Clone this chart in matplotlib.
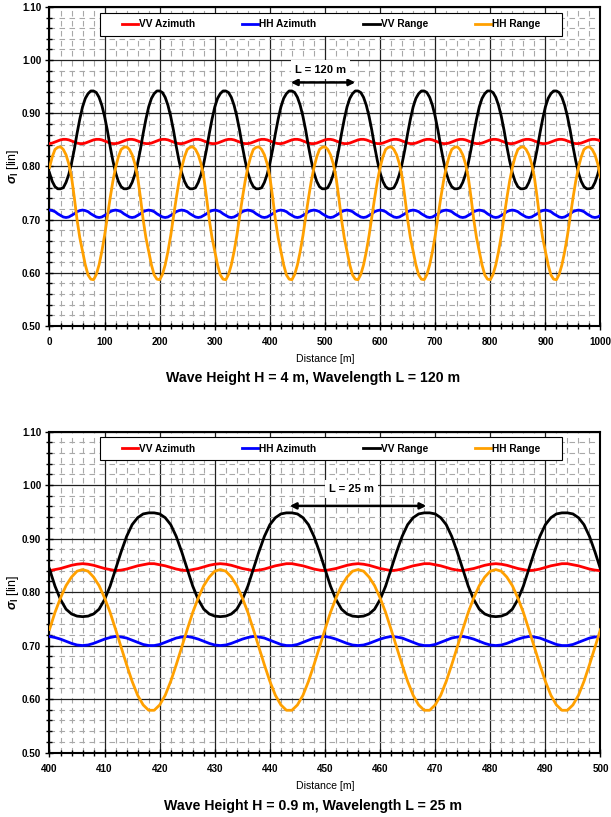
import matplotlib
matplotlib.use("Agg")
import matplotlib.pyplot as plt
from matplotlib.patches import Rectangle
from matplotlib.ticker import MultipleLocator, FormatStrFormatter

plt.rcParams['font.family'] = ['Liberation Sans', 'DejaVu Sans']
plt.rcParams['font.weight'] = 'bold'
plt.rcParams['mathtext.fontset'] = 'custom'
plt.rcParams['mathtext.it'] = 'Liberation Sans:italic:bold'
plt.rcParams['mathtext.rm'] = 'Liberation Sans:bold'

# ---- data ----
series_names = ["VV Azimuth", "HH Azimuth", "VV Range", "HH Range"]
series_colors = ["#ff0000", "#0000ff", "#000000", "#ffa000"]

# top panel: H = 4 m, L = 120 m, sampled every 5 m
distance_top = list(range(0, 1001, 5))
vv_az_top = [
    0.843, 0.844, 0.846, 0.848, 0.850, 0.851, 0.851, 0.850, 0.848, 0.846, 0.844, 0.843,
    0.843, 0.844, 0.846, 0.848, 0.850, 0.851, 0.851, 0.850, 0.848, 0.846, 0.844, 0.843,
    0.843, 0.844, 0.846, 0.848, 0.850, 0.851, 0.851, 0.850, 0.848, 0.846, 0.844, 0.843,
    0.843, 0.844, 0.846, 0.848, 0.850, 0.851, 0.851, 0.850, 0.848, 0.846, 0.844, 0.843,
    0.843, 0.844, 0.846, 0.848, 0.850, 0.851, 0.851, 0.850, 0.848, 0.846, 0.844, 0.843,
    0.843, 0.844, 0.846, 0.848, 0.850, 0.851, 0.851, 0.850, 0.848, 0.846, 0.844, 0.843,
    0.843, 0.844, 0.846, 0.848, 0.850, 0.851, 0.851, 0.850, 0.848, 0.846, 0.844, 0.843,
    0.843, 0.844, 0.846, 0.848, 0.850, 0.851, 0.851, 0.850, 0.848, 0.846, 0.844, 0.843,
    0.843, 0.844, 0.846, 0.848, 0.850, 0.851, 0.851, 0.850, 0.848, 0.846, 0.844, 0.843,
    0.843, 0.844, 0.846, 0.848, 0.850, 0.851, 0.851, 0.850, 0.848, 0.846, 0.844, 0.843,
    0.843, 0.844, 0.846, 0.848, 0.850, 0.851, 0.851, 0.850, 0.848, 0.846, 0.844, 0.843,
    0.843, 0.844, 0.846, 0.848, 0.850, 0.851, 0.851, 0.850, 0.848, 0.846, 0.844, 0.843,
    0.843, 0.844, 0.846, 0.848, 0.850, 0.851, 0.851, 0.850, 0.848, 0.846, 0.844, 0.843,
    0.843, 0.844, 0.846, 0.848, 0.850, 0.851, 0.851, 0.850, 0.848, 0.846, 0.844, 0.843,
    0.843, 0.844, 0.846, 0.848, 0.850, 0.851, 0.851, 0.850, 0.848, 0.846, 0.844, 0.843,
    0.843, 0.844, 0.846, 0.848, 0.850, 0.851, 0.851, 0.850, 0.848, 0.846, 0.844, 0.843,
    0.843, 0.844, 0.846, 0.848, 0.850, 0.851, 0.851, 0.850, 0.848,
]
hh_az_top = [
    0.718, 0.717, 0.715, 0.711, 0.708, 0.705, 0.704, 0.705, 0.708, 0.711, 0.715, 0.717,
    0.718, 0.717, 0.715, 0.711, 0.708, 0.705, 0.704, 0.705, 0.708, 0.711, 0.715, 0.717,
    0.718, 0.717, 0.715, 0.711, 0.708, 0.705, 0.704, 0.705, 0.708, 0.711, 0.715, 0.717,
    0.718, 0.717, 0.715, 0.711, 0.708, 0.705, 0.704, 0.705, 0.708, 0.711, 0.715, 0.717,
    0.718, 0.717, 0.715, 0.711, 0.708, 0.705, 0.704, 0.705, 0.708, 0.711, 0.715, 0.717,
    0.718, 0.717, 0.715, 0.711, 0.708, 0.705, 0.704, 0.705, 0.708, 0.711, 0.715, 0.717,
    0.718, 0.717, 0.715, 0.711, 0.708, 0.705, 0.704, 0.705, 0.708, 0.711, 0.715, 0.717,
    0.718, 0.717, 0.715, 0.711, 0.708, 0.705, 0.704, 0.705, 0.708, 0.711, 0.715, 0.717,
    0.718, 0.717, 0.715, 0.711, 0.708, 0.705, 0.704, 0.705, 0.708, 0.711, 0.715, 0.717,
    0.718, 0.717, 0.715, 0.711, 0.708, 0.705, 0.704, 0.705, 0.708, 0.711, 0.715, 0.717,
    0.718, 0.717, 0.715, 0.711, 0.708, 0.705, 0.704, 0.705, 0.708, 0.711, 0.715, 0.717,
    0.718, 0.717, 0.715, 0.711, 0.708, 0.705, 0.704, 0.705, 0.708, 0.711, 0.715, 0.717,
    0.718, 0.717, 0.715, 0.711, 0.708, 0.705, 0.704, 0.705, 0.708, 0.711, 0.715, 0.717,
    0.718, 0.717, 0.715, 0.711, 0.708, 0.705, 0.704, 0.705, 0.708, 0.711, 0.715, 0.717,
    0.718, 0.717, 0.715, 0.711, 0.708, 0.705, 0.704, 0.705, 0.708, 0.711, 0.715, 0.717,
    0.718, 0.717, 0.715, 0.711, 0.708, 0.705, 0.704, 0.705, 0.708, 0.711, 0.715, 0.717,
    0.718, 0.717, 0.715, 0.711, 0.708, 0.705, 0.704, 0.705, 0.708,
]
vv_rg_top = [
    0.788, 0.772, 0.762, 0.758, 0.758, 0.760, 0.770, 0.785, 0.806, 0.832, 0.862, 0.889,
    0.912, 0.928, 0.937, 0.942, 0.942, 0.939, 0.930, 0.915, 0.894, 0.868, 0.838, 0.811,
    0.788, 0.772, 0.762, 0.758, 0.758, 0.760, 0.770, 0.785, 0.806, 0.832, 0.862, 0.889,
    0.912, 0.928, 0.937, 0.942, 0.942, 0.939, 0.930, 0.915, 0.894, 0.868, 0.838, 0.811,
    0.788, 0.772, 0.762, 0.758, 0.758, 0.760, 0.770, 0.785, 0.806, 0.832, 0.862, 0.889,
    0.912, 0.928, 0.937, 0.942, 0.942, 0.939, 0.930, 0.915, 0.894, 0.868, 0.838, 0.811,
    0.788, 0.772, 0.762, 0.758, 0.758, 0.760, 0.770, 0.785, 0.806, 0.832, 0.862, 0.889,
    0.912, 0.928, 0.937, 0.942, 0.942, 0.939, 0.930, 0.915, 0.894, 0.868, 0.838, 0.811,
    0.788, 0.772, 0.762, 0.758, 0.758, 0.760, 0.770, 0.785, 0.806, 0.832, 0.862, 0.889,
    0.912, 0.928, 0.937, 0.942, 0.942, 0.939, 0.930, 0.915, 0.894, 0.868, 0.838, 0.811,
    0.788, 0.772, 0.762, 0.758, 0.758, 0.760, 0.770, 0.785, 0.806, 0.832, 0.862, 0.889,
    0.912, 0.928, 0.937, 0.942, 0.942, 0.939, 0.930, 0.915, 0.894, 0.868, 0.838, 0.811,
    0.788, 0.772, 0.762, 0.758, 0.758, 0.760, 0.770, 0.785, 0.806, 0.832, 0.862, 0.889,
    0.912, 0.928, 0.937, 0.942, 0.942, 0.939, 0.930, 0.915, 0.894, 0.868, 0.838, 0.811,
    0.788, 0.772, 0.762, 0.758, 0.758, 0.760, 0.770, 0.785, 0.806, 0.832, 0.862, 0.889,
    0.912, 0.928, 0.937, 0.942, 0.942, 0.939, 0.930, 0.915, 0.894, 0.868, 0.838, 0.811,
    0.788, 0.772, 0.762, 0.758, 0.758, 0.760, 0.770, 0.785, 0.806,
]
hh_rg_top = [
    0.798, 0.818, 0.832, 0.836, 0.837, 0.832, 0.822, 0.805, 0.780, 0.742, 0.700, 0.666,
    0.640, 0.615, 0.596, 0.588, 0.587, 0.597, 0.615, 0.640, 0.670, 0.705, 0.740, 0.772,
    0.798, 0.818, 0.832, 0.836, 0.837, 0.832, 0.822, 0.805, 0.780, 0.742, 0.700, 0.666,
    0.640, 0.615, 0.596, 0.588, 0.587, 0.597, 0.615, 0.640, 0.670, 0.705, 0.740, 0.772,
    0.798, 0.818, 0.832, 0.836, 0.837, 0.832, 0.822, 0.805, 0.780, 0.742, 0.700, 0.666,
    0.640, 0.615, 0.596, 0.588, 0.587, 0.597, 0.615, 0.640, 0.670, 0.705, 0.740, 0.772,
    0.798, 0.818, 0.832, 0.836, 0.837, 0.832, 0.822, 0.805, 0.780, 0.742, 0.700, 0.666,
    0.640, 0.615, 0.596, 0.588, 0.587, 0.597, 0.615, 0.640, 0.670, 0.705, 0.740, 0.772,
    0.798, 0.818, 0.832, 0.836, 0.837, 0.832, 0.822, 0.805, 0.780, 0.742, 0.700, 0.666,
    0.640, 0.615, 0.596, 0.588, 0.587, 0.597, 0.615, 0.640, 0.670, 0.705, 0.740, 0.772,
    0.798, 0.818, 0.832, 0.836, 0.837, 0.832, 0.822, 0.805, 0.780, 0.742, 0.700, 0.666,
    0.640, 0.615, 0.596, 0.588, 0.587, 0.597, 0.615, 0.640, 0.670, 0.705, 0.740, 0.772,
    0.798, 0.818, 0.832, 0.836, 0.837, 0.832, 0.822, 0.805, 0.780, 0.742, 0.700, 0.666,
    0.640, 0.615, 0.596, 0.588, 0.587, 0.597, 0.615, 0.640, 0.670, 0.705, 0.740, 0.772,
    0.798, 0.818, 0.832, 0.836, 0.837, 0.832, 0.822, 0.805, 0.780, 0.742, 0.700, 0.666,
    0.640, 0.615, 0.596, 0.588, 0.587, 0.597, 0.615, 0.640, 0.670, 0.705, 0.740, 0.772,
    0.798, 0.818, 0.832, 0.836, 0.837, 0.832, 0.822, 0.805, 0.780,
]

# bottom panel: H = 0.9 m, L = 25 m, sampled every 1 m
distance_bot = list(range(400, 501))
vv_az_bot = [
    0.840, 0.842, 0.844, 0.847, 0.850, 0.852, 0.853, 0.852, 0.850, 0.847, 0.844, 0.842, 0.840,
    0.841, 0.843, 0.846, 0.849, 0.851, 0.853, 0.853, 0.851, 0.849, 0.846, 0.843, 0.841,
    0.840, 0.842, 0.844, 0.847, 0.850, 0.852, 0.853, 0.852, 0.850, 0.847, 0.844, 0.842, 0.840,
    0.841, 0.843, 0.846, 0.849, 0.851, 0.853, 0.853, 0.851, 0.849, 0.846, 0.843, 0.841,
    0.840, 0.842, 0.844, 0.847, 0.850, 0.852, 0.853, 0.852, 0.850, 0.847, 0.844, 0.842, 0.840,
    0.841, 0.843, 0.846, 0.849, 0.851, 0.853, 0.853, 0.851, 0.849, 0.846, 0.843, 0.841,
    0.840, 0.842, 0.844, 0.847, 0.850, 0.852, 0.853, 0.852, 0.850, 0.847, 0.844, 0.842, 0.840,
    0.841, 0.843, 0.846, 0.849, 0.851, 0.853, 0.853, 0.851, 0.849, 0.846, 0.843, 0.841,
    0.840,
]
hh_az_bot = [
    0.717, 0.715, 0.712, 0.708, 0.704, 0.701, 0.700, 0.701, 0.704, 0.708, 0.712, 0.715, 0.717,
    0.716, 0.714, 0.710, 0.706, 0.702, 0.700, 0.700, 0.702, 0.706, 0.710, 0.714, 0.716,
    0.717, 0.715, 0.712, 0.708, 0.704, 0.701, 0.700, 0.701, 0.704, 0.708, 0.712, 0.715, 0.717,
    0.716, 0.714, 0.710, 0.706, 0.702, 0.700, 0.700, 0.702, 0.706, 0.710, 0.714, 0.716,
    0.717, 0.715, 0.712, 0.708, 0.704, 0.701, 0.700, 0.701, 0.704, 0.708, 0.712, 0.715, 0.717,
    0.716, 0.714, 0.710, 0.706, 0.702, 0.700, 0.700, 0.702, 0.706, 0.710, 0.714, 0.716,
    0.717, 0.715, 0.712, 0.708, 0.704, 0.701, 0.700, 0.701, 0.704, 0.708, 0.712, 0.715, 0.717,
    0.716, 0.714, 0.710, 0.706, 0.702, 0.700, 0.700, 0.702, 0.706, 0.710, 0.714, 0.716,
    0.717,
]
vv_rg_bot = [
    0.843, 0.811, 0.786, 0.768, 0.759, 0.755, 0.754, 0.755, 0.759, 0.768, 0.786, 0.811, 0.843,
    0.875, 0.904, 0.926, 0.939, 0.946, 0.948, 0.948, 0.946, 0.939, 0.926, 0.904, 0.875,
    0.843, 0.811, 0.786, 0.768, 0.759, 0.755, 0.754, 0.755, 0.759, 0.768, 0.786, 0.811, 0.843,
    0.875, 0.904, 0.926, 0.939, 0.946, 0.948, 0.948, 0.946, 0.939, 0.926, 0.904, 0.875,
    0.843, 0.811, 0.786, 0.768, 0.759, 0.755, 0.754, 0.755, 0.759, 0.768, 0.786, 0.811, 0.843,
    0.875, 0.904, 0.926, 0.939, 0.946, 0.948, 0.948, 0.946, 0.939, 0.926, 0.904, 0.875,
    0.843, 0.811, 0.786, 0.768, 0.759, 0.755, 0.754, 0.755, 0.759, 0.768, 0.786, 0.811, 0.843,
    0.875, 0.904, 0.926, 0.939, 0.946, 0.948, 0.948, 0.946, 0.939, 0.926, 0.904, 0.875,
    0.843,
]
hh_rg_bot = [
    0.730, 0.762, 0.789, 0.812, 0.828, 0.839, 0.842, 0.839, 0.828, 0.812, 0.789, 0.762, 0.730,
    0.697, 0.664, 0.633, 0.607, 0.589, 0.579, 0.579, 0.589, 0.607, 0.633, 0.664, 0.697,
    0.730, 0.762, 0.789, 0.812, 0.828, 0.839, 0.842, 0.839, 0.828, 0.812, 0.789, 0.762, 0.730,
    0.697, 0.664, 0.633, 0.607, 0.589, 0.579, 0.579, 0.589, 0.607, 0.633, 0.664, 0.697,
    0.730, 0.762, 0.789, 0.812, 0.828, 0.839, 0.842, 0.839, 0.828, 0.812, 0.789, 0.762, 0.730,
    0.697, 0.664, 0.633, 0.607, 0.589, 0.579, 0.579, 0.589, 0.607, 0.633, 0.664, 0.697,
    0.730, 0.762, 0.789, 0.812, 0.828, 0.839, 0.842, 0.839, 0.828, 0.812, 0.789, 0.762, 0.730,
    0.697, 0.664, 0.633, 0.607, 0.589, 0.579, 0.579, 0.589, 0.607, 0.633, 0.664, 0.697,
    0.730,
]

titles = ["Wave Height H = 4 m, Wavelength L = 120 m",
          "Wave Height H = 0.9 m, Wavelength L = 25 m"]
wave_labels = ["L = 120 m", "L = 25 m"]


def draw_panel(ax, dist, series, xlim, xmajor, xminor):
    for vals, name, col in zip(series, series_names, series_colors):
        ax.plot(dist, vals, color=col, lw=2.0, label=name, zorder=3,
                solid_joinstyle='round')
    ax.set_xlim(*xlim)
    ax.set_ylim(0.5, 1.1)
    ax.xaxis.set_major_locator(MultipleLocator(xmajor))
    ax.xaxis.set_minor_locator(MultipleLocator(xminor))
    ax.yaxis.set_major_locator(MultipleLocator(0.1))
    ax.yaxis.set_minor_locator(MultipleLocator(0.02))
    ax.yaxis.set_major_formatter(FormatStrFormatter('%.2f'))
    ax.grid(which='major', color='#202020', lw=0.9, zorder=1)
    ax.grid(which='minor', color='#a8a8a8', lw=0.8, ls=(0, (5, 4)), zorder=1)
    ax.set_axisbelow(True)
    ax.tick_params(which='both', direction='inout', width=1.0, labelsize=7.1)
    ax.tick_params(which='major', length=6)
    ax.tick_params(which='minor', length=5)
    ax.tick_params(axis='x', pad=5)
    ax.tick_params(axis='y', pad=3)
    for s in ax.spines.values():
        s.set_linewidth(1.5)
    ax.set_xlabel("Distance [m]", fontsize=7.6, labelpad=5)
    ax.set_ylabel(r"$\sigma_{\mathrm{l}}$ [lin]", fontsize=9, labelpad=1)
    # legend box drawn as its own frame, entries spread inside it
    ax.add_patch(Rectangle((0.0917, 0.910), 0.8385, 0.072, transform=ax.transAxes,
                           facecolor='white', edgecolor='black', lw=0.8, zorder=4))
    ax.legend(loc='center', bbox_to_anchor=(0.1316, 0.910, 0.759, 0.072),
              mode='expand', ncol=4, fontsize=7.3, handlelength=1.6,
              handletextpad=0.1, borderpad=0, frameon=False,
              borderaxespad=0).set_zorder(5)


fig = plt.figure(figsize=(6.11, 8.17), dpi=100)
ax1 = fig.add_axes([0.0810, 0.6010, 0.9018, 0.3905])
ax2 = fig.add_axes([0.0810, 0.0789, 0.9018, 0.3929])

draw_panel(ax1, distance_top, [vv_az_top, hh_az_top, vv_rg_top, hh_rg_top],
           (0, 1000), 100, 20)
draw_panel(ax2, distance_bot, [vv_az_bot, hh_az_bot, vv_rg_bot, hh_rg_bot],
           (400, 500), 10, 2)

arrow = dict(arrowstyle='<|-|>', color='black', lw=1.8, mutation_scale=9,
             shrinkA=0, shrinkB=0)
ax1.annotate('', xy=(438, 0.958), xytext=(555, 0.958), arrowprops=arrow, zorder=4)
ax1.text(492, 0.982, wave_labels[0], ha='center', va='center', fontsize=8,
         bbox=dict(facecolor='white', edgecolor='none', pad=3), zorder=4)
ax2.annotate('', xy=(443.6, 0.961), xytext=(468.4, 0.961), arrowprops=arrow, zorder=4)
ax2.text(454.8, 0.9925, wave_labels[1], ha='center', va='center', fontsize=8,
         bbox=dict(facecolor='white', edgecolor='none', pad=3), zorder=4)

fig.text(0.512, 1 - 378 / 817, titles[0], ha='center', va='center', fontsize=10.2)
fig.text(0.512, 1 - 806 / 817, titles[1], ha='center', va='center', fontsize=10.2)

fig.savefig("out.png", dpi=100)
